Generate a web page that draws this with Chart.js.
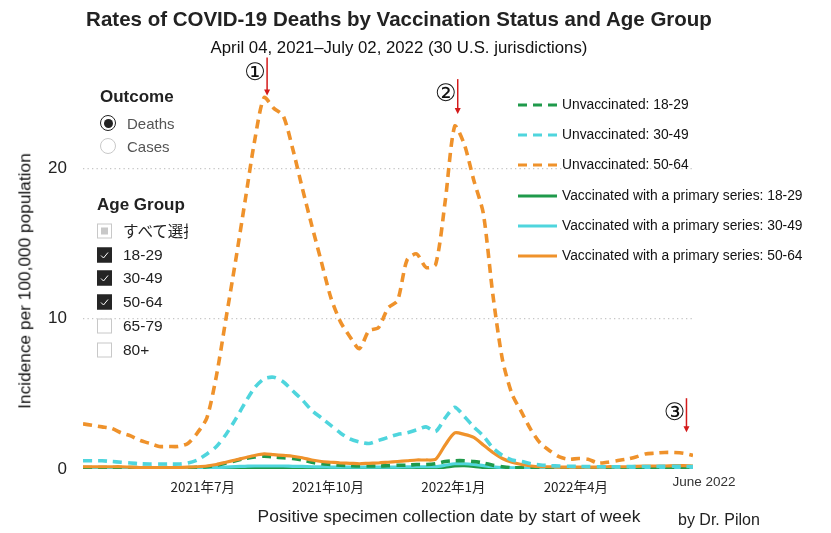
<!DOCTYPE html>
<html>
<head>
<meta charset="utf-8">
<script src="https://cdn.jsdelivr.net/npm/chart.js@4.4.1/dist/chart.umd.min.js"></script>
<style>
  html, body { margin: 0; padding: 0; background: #fff; }
  #wrap { position: relative; width: 831px; height: 533px; overflow: hidden;
          font-family: "Liberation Sans", Arial, sans-serif; color: #222; }
  #chart { position: absolute; left: 0; top: 0; }
  .abs { position: absolute; white-space: nowrap; line-height: 1; }
  .ctr { transform: translate(-50%, -50%); }
  .mid { transform: translateY(-50%); }
  #title { left: 399px; top: 19px; font-weight: bold; font-size: 20.5px; color: #222; }
  #subtitle { left: 399px; top: 48px; font-size: 16.8px; color: #111; }
  #ytitle { left: 25px; top: 281px; font-size: 17.3px; color: #111; transform: translate(-50%, -50%) rotate(-90deg); }
  #xtitle { left: 449px; top: 517px; font-size: 17.4px; color: #222; }
  #credit { left: 678px; top: 520px; font-size: 16px; color: #222; }
  #junelbl { left: 704px; top: 482px; font-size: 13.5px; color: #333; }
  .head { font-weight: bold; font-size: 17px; color: #222; }
  .radio { width: 14px; height: 14px; border-radius: 50%; border: 1.5px solid #c8c8c8; }
  .radio.on { border-color: #222; }
  .radio.on::after { content: ""; position: absolute; left: 2.5px; top: 2.5px; width: 9px; height: 9px;
                     border-radius: 50%; background: #222; }
  .opt { font-size: 15px; color: #555; }
  .box { width: 13px; height: 13px; border: 1.5px solid #c8c8c8; background: #fff; }
  .box.on { background: #252525; border-color: #252525; }
  .box.part::after { content: ""; position: absolute; left: 3px; top: 3px; width: 7px; height: 7px; background: #c8c8c8; }
  .box svg { position: absolute; left: 0; top: 0; }
  .age { font-size: 15.5px; color: #222; }
  #legend { position: absolute; left: 517px; top: 0; }
  .lg { position: absolute; left: 0; white-space: nowrap; font-size: 13.8px; color: #111; line-height: 1; }
  .lg svg { vertical-align: middle; margin-right: 4px; }
  .lg span { vertical-align: middle; }
</style>
</head>
<body>
<div id="wrap">
  <canvas id="chart" width="831" height="533"></canvas>

  <div id="title" class="abs ctr">Rates of COVID-19 Deaths by Vaccination Status and Age Group</div>
  <div id="subtitle" class="abs ctr">April 04, 2021–July 02, 2022 (30 U.S. jurisdictions)</div>
  <div id="ytitle" class="abs">Incidence per 100,000 population</div>

  <div class="abs head mid" style="left:100px; top:96px;">Outcome</div>
  <div class="abs radio on mid" style="left:100px; top:123px;"></div>
  <div class="abs opt mid" style="left:127px; top:123px;">Deaths</div>
  <div class="abs radio mid" style="left:100px; top:146px;"></div>
  <div class="abs opt mid" style="left:127px; top:146px;">Cases</div>

  <div class="abs head mid" style="left:97px; top:204px;">Age Group</div>
  <div id="ages"></div>

  <div id="legend"></div>

  <div id="junelbl" class="abs ctr">June 2022</div>
  <div id="xtitle" class="abs ctr">Positive specimen collection date by start of week</div>
  <div id="credit" class="abs mid">by Dr. Pilon</div>
</div>

<script>
// weekly values, week 0 = week of Apr 04, 2021, last = week of Jun 26, 2022
const unvax1829 = [0.1, 0.1, 0.1, 0.1, 0.1, 0.1, 0.1, 0.1, 0.1, 0.1, 0.1, 0.1, 0.12, 0.15, 0.25, 0.4,
  0.55, 0.7, 0.8, 0.85, 0.8, 0.75, 0.7, 0.6, 0.45, 0.35, 0.3, 0.25, 0.22, 0.2, 0.2, 0.2,
  0.22, 0.25, 0.25, 0.3, 0.3, 0.35, 0.5, 0.55, 0.55, 0.5, 0.4, 0.25, 0.15, 0.08, 0.08, 0.08,
  0.08, 0.08, 0.08, 0.08, 0.08, 0.08, 0.08, 0.08, 0.08, 0.08, 0.08, 0.08, 0.08, 0.08, 0.08, 0.08, 0.08];
const unvax3049 = [0.55, 0.55, 0.55, 0.5, 0.45, 0.4, 0.35, 0.33, 0.33, 0.33, 0.33, 0.4, 0.6, 1.0, 1.5, 2.3,
  3.3, 4.4, 5.4, 6.0, 6.1, 5.8, 5.2, 4.6, 3.9, 3.4, 2.9, 2.4, 2.0, 1.8, 1.7, 1.9,
  2.1, 2.3, 2.4, 2.6, 2.8, 2.5, 3.4, 4.1, 3.5, 2.8, 2.2, 1.4, 0.9, 0.6, 0.5, 0.35,
  0.27, 0.22, 0.2, 0.18, 0.17, 0.16, 0.15, 0.15, 0.15, 0.16, 0.16, 0.17, 0.17, 0.18, 0.18, 0.17, 0.16];
const unvax5064 = [3.0, 2.9, 2.8, 2.7, 2.4, 2.2, 1.9, 1.7, 1.5, 1.5, 1.5, 1.7, 2.4, 3.4, 6.2, 10.0,
  13.8, 17.8, 21.8, 24.7, 24.0, 23.5, 21.3, 18.7, 16.2, 13.8, 11.4, 9.8, 8.8, 8.0, 9.2, 9.4,
  10.7, 11.2, 13.9, 14.3, 13.4, 13.6, 17.8, 22.8, 21.6, 19.2, 17.0, 11.6, 7.3, 5.0, 3.8, 2.6,
  1.7, 1.2, 0.8, 0.65, 0.7, 0.65, 0.4, 0.45, 0.55, 0.65, 0.8, 1.0, 1.05, 1.1, 1.1, 1.05, 0.9];
const vax1829 = [0.02, 0.02, 0.02, 0.02, 0.02, 0.02, 0.02, 0.02, 0.02, 0.02, 0.02, 0.02, 0.02, 0.03, 0.03, 0.04,
  0.05, 0.06, 0.07, 0.07, 0.07, 0.07, 0.06, 0.06, 0.05, 0.05, 0.04, 0.04, 0.04, 0.04, 0.04, 0.04,
  0.04, 0.05, 0.05, 0.05, 0.06, 0.07, 0.12, 0.2, 0.22, 0.18, 0.1, 0.06, 0.04, 0.03, 0.02, 0.02,
  0.02, 0.02, 0.02, 0.02, 0.02, 0.02, 0.02, 0.02, 0.02, 0.02, 0.02, 0.02, 0.02, 0.02, 0.02, 0.02, 0.02];
const vax3049 = [0.05, 0.05, 0.05, 0.05, 0.05, 0.05, 0.05, 0.05, 0.05, 0.05, 0.05, 0.05, 0.06, 0.08, 0.1, 0.13,
  0.16, 0.18, 0.2, 0.2, 0.2, 0.2, 0.18, 0.17, 0.15, 0.14, 0.13, 0.12, 0.12, 0.12, 0.12, 0.12,
  0.13, 0.13, 0.14, 0.15, 0.15, 0.16, 0.25, 0.35, 0.35, 0.3, 0.22, 0.15, 0.1, 0.08, 0.06, 0.06,
  0.06, 0.06, 0.06, 0.06, 0.06, 0.06, 0.06, 0.06, 0.06, 0.06, 0.06, 0.06, 0.06, 0.06, 0.06, 0.06, 0.06];
const vax5064 = [0.15, 0.15, 0.15, 0.15, 0.15, 0.12, 0.1, 0.1, 0.1, 0.1, 0.1, 0.12, 0.15, 0.2, 0.3, 0.45,
  0.6, 0.75, 0.9, 1.0, 0.95, 0.9, 0.85, 0.75, 0.6, 0.5, 0.45, 0.4, 0.38, 0.35, 0.38, 0.4,
  0.45, 0.5, 0.55, 0.6, 0.6, 0.65, 1.6, 2.4, 2.3, 2.1, 1.6, 1.1, 0.7, 0.45, 0.3, 0.2,
  0.15, 0.15, 0.12, 0.12, 0.12, 0.12, 0.12, 0.15, 0.15, 0.15, 0.18, 0.2, 0.2, 0.2, 0.22, 0.22, 0.2];

// month ticks, as week offsets from Apr 04, 2021
const tickLabels = ["2021年7月", "2021年10月", "2022年1月", "2022年4月"];
const tickWeeks = [12.57, 25.71, 38.86, 51.71];
const yTicks = [0, 10, 20];

const ageGroups = ["すべて選択", "18-29", "30-49", "50-64", "65-79", "80+"];
const ageChecked = ["part", "on", "on", "on", "", ""];

// annotation arrows on the unvaccinated 50-64 line
const arrowNames = ["①", "②", "③"];
const arrowWeeks = [19, 39, 63];

const orange = "#ef922b";
const cyan = "#4fd5dd";
const green = "#1f9a4b";

const series = [
  { label: "Unvaccinated: 18-29", data: unvax1829, color: green, dash: [9, 6] },
  { label: "Unvaccinated: 30-49", data: unvax3049, color: cyan, dash: [9, 6] },
  { label: "Unvaccinated: 50-64", data: unvax5064, color: orange, dash: [9, 6] },
  { label: "Vaccinated with a primary series: 18-29", data: vax1829, color: green, dash: [] },
  { label: "Vaccinated with a primary series: 30-49", data: vax3049, color: cyan, dash: [] },
  { label: "Vaccinated with a primary series: 50-64", data: vax5064, color: orange, dash: [] }
];
// drawing order: lower = on top
const drawOrder = [4, 2, 1, 6, 5, 3];

// left slicer checkboxes
const ages = document.getElementById("ages");
ageGroups.forEach((g, i) => {
  const y = 231 + i * 23.7;
  const box = document.createElement("div");
  box.className = "abs box mid " + ageChecked[i];
  box.style.left = "97px";
  box.style.top = y + "px";
  if (ageChecked[i] === "on") {
    box.innerHTML = '<svg width="13" height="13"><polyline points="3,7 5.5,9.5 10,4" fill="none" stroke="#fff" stroke-width="1"/></svg>';
  }
  ages.appendChild(box);
  const txt = document.createElement("div");
  txt.className = "abs age mid";
  txt.style.left = "123px";
  txt.style.top = y + "px";
  txt.textContent = g;
  if (i === 0) {
    txt.style.fontFamily = '"Noto Sans CJK JP", sans-serif';
    txt.style.width = "65px";
    txt.style.overflow = "hidden";
  }
  ages.appendChild(txt);
});

// legend
const legend = document.getElementById("legend");
series.forEach((s, i) => {
  const row = document.createElement("div");
  row.className = "lg";
  row.style.top = (105 + i * 30.2 - 8) + "px";
  const dash = s.dash.length ? ' stroke-dasharray="' + s.dash.join(" ") + '"' : "";
  row.innerHTML = '<svg width="41" height="16"><line x1="1" y1="8" x2="40" y2="8" stroke="' + s.color +
    '" stroke-width="3"' + dash + '/></svg><span>' + s.label + '</span>';
  legend.appendChild(row);
});

const arrowPlugin = {
  id: "arrows",
  afterDatasetsDraw(chart) {
    const { ctx, scales } = chart;
    const gaps = [2, 12, 21];
    const lengths = [38, 35, 34];
    ctx.save();
    arrowWeeks.forEach((w, i) => {
      const x = scales.x.getPixelForValue(w) + 3;
      const tip = scales.y.getPixelForValue(unvax5064[w]) - gaps[i];
      const top = tip - lengths[i];
      ctx.strokeStyle = "#d41a1a";
      ctx.fillStyle = "#d41a1a";
      ctx.lineWidth = 1.5;
      ctx.beginPath();
      ctx.moveTo(x, top);
      ctx.lineTo(x, tip - 5);
      ctx.stroke();
      ctx.beginPath();
      ctx.moveTo(x - 3, tip - 6);
      ctx.lineTo(x + 3, tip - 6);
      ctx.lineTo(x, tip);
      ctx.closePath();
      ctx.fill();
      ctx.fillStyle = "#111";
      ctx.font = '24px "DejaVu Sans"';
      ctx.textAlign = "center";
      ctx.textBaseline = "middle";
      ctx.fillText(arrowNames[i], x - 12, top + 16);
    });
    ctx.restore();
  }
};

new Chart(document.getElementById("chart"), {
  type: "line",
  data: {
    datasets: series.map((s, i) => ({
      label: s.label,
      data: s.data.map((v, w) => ({ x: w, y: v })),
      borderColor: s.color,
      borderWidth: s.dash.length ? 3.6 : 3.2,
      borderDash: s.dash,
      pointRadius: 0,
      tension: 0.25,
      fill: false,
      order: drawOrder[i]
    }))
  },
  options: {
    responsive: false,
    animation: false,
    layout: { padding: { left: 0, right: 138, top: 78, bottom: 0 } },
    plugins: { legend: { display: false }, tooltip: { enabled: false } },
    scales: {
      x: {
        type: "linear",
        min: 0,
        max: unvax5064.length - 1,
        afterFit: scale => { scale.height = 64; },
        afterBuildTicks: scale => { scale.ticks = tickWeeks.map(v => ({ value: v })); },
        grid: { display: false },
        border: { display: false },
        ticks: {
          autoSkip: false,
          maxRotation: 0,
          padding: 2,
          color: "#222",
          font: { family: '"Noto Sans CJK JP", sans-serif', size: 13.5 },
          callback: (v, i) => tickLabels[i]
        }
      },
      y: {
        min: 0,
        max: 26,
        afterFit: scale => { scale.width = 83; },
        afterBuildTicks: scale => { scale.ticks = yTicks.map(v => ({ value: v })); },
        grid: {
          drawTicks: false,
          lineWidth: 1.3,
          color: c => (c.tick && c.tick.value === 0) ? "rgba(0,0,0,0)" : "#c6c6c6"
        },
        border: { display: false, dash: [1.3, 3.2] },
        ticks: {
          padding: 16,
          color: "#222",
          font: { family: '"Liberation Sans", Arial, sans-serif', size: 17 }
        }
      }
    }
  },
  plugins: [arrowPlugin]
});
</script>
</body>
</html>
